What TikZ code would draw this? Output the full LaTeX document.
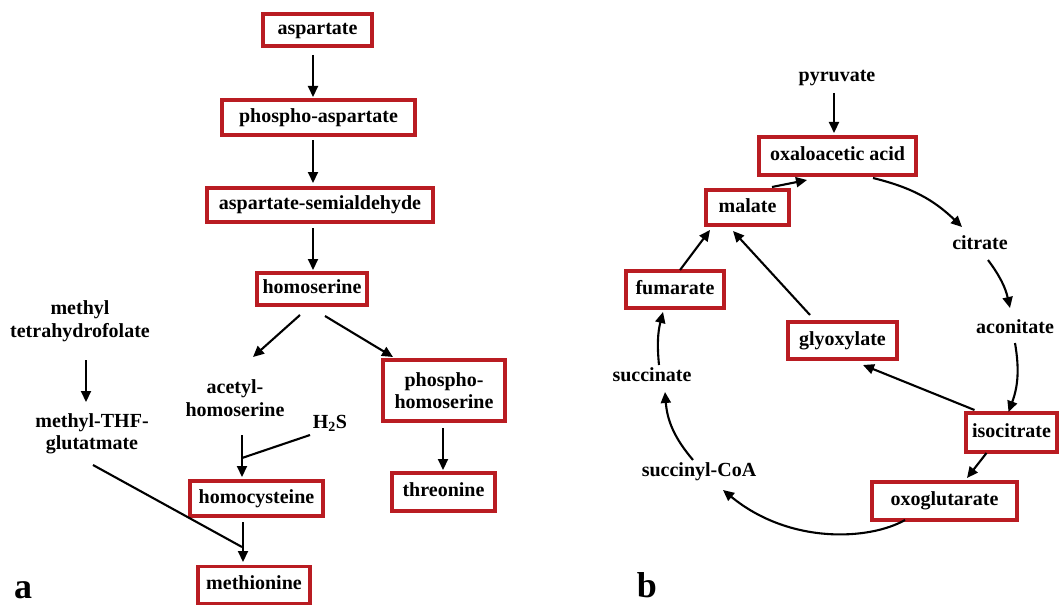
\documentclass[tikz,border=0pt]{standalone}
\usepackage{fontspec}
\setmainfont{Liberation Serif}
\usetikzlibrary{arrows.meta}
\definecolor{boxred}{RGB}{185,28,34}
\begin{document}
\begin{tikzpicture}[x=1pt,y=-1pt,
  every node/.style={font=\bfseries\fontsize{20}{22.5}\selectfont, inner sep=0pt, align=center},
  bx/.style={draw=boxred, line width=3.2pt, fill=white, text height=13.5pt, text depth=4pt},
  arr/.style={line width=2.1pt, -{Triangle[length=11pt,width=10pt]}},
  ln/.style={line width=2.1pt},
  panel/.style={font=\bfseries\fontsize{36}{40}\selectfont}]
\useasboundingbox (0,0) rectangle (1059,607);

% ---------- panel a ----------
\node[bx, minimum width=109pt, minimum height=32pt] (asp) at (317.5,30) {aspartate};
\node[bx, minimum width=193pt, minimum height=35pt] (pasp) at (318.5,117.5) {phospho-aspartate};
\node[bx, minimum width=226pt, minimum height=34pt] (asa) at (320,205) {aspartate-semialdehyde};
\node[bx, minimum width=110pt, minimum height=32pt] (hom) at (312,289) {homoserine};
\node (acet) at (235,398) {acetyl-\\homoserine};
\node[bx, text height=, text depth=, minimum width=122pt, minimum height=61pt] (phom) at (444,390.5) {phospho-\\homoserine};
\node[bx, minimum width=103pt, minimum height=38pt] (thr) at (443.5,492) {threonine};
\node (mthf) at (80,321) {methyl\\tetrahydrofolate};
\node (mthfg) at (92,434) {methyl-THF-\\glutatmate};
\node (h2s) at (330,423) {H\textsubscript{2}S};
\node[bx, minimum width=133pt, minimum height=35pt] (hcy) at (256.5,498.5) {homocysteine};
\node[bx, minimum width=112pt, minimum height=37pt] (met) at (254,585) {methionine};
\node[panel] (la) at (23,590) {a};

\draw[arr] ([shift={(-4.5,25)}]asp.center) -- ([shift={(-5.5,-20.5)}]pasp.center);
\draw[arr] ([shift={(-5.5,22.5)}]pasp.center) -- ([shift={(-7,-22)}]asa.center);
\draw[arr] ([shift={(-7,23)}]asa.center) -- ([shift={(1,-19)}]hom.center);
\draw[arr] ([shift={(-12,26)}]hom.center) -- ([shift={(18,-41)}]acet.center);
\draw[arr] ([shift={(13,27)}]hom.center) -- ([shift={(-51,-33.5)}]phom.center);
\draw[arr] ([shift={(-1,37.5)}]phom.center) -- ([shift={(-0.5,-22)}]thr.center);
\draw[arr] ([shift={(6,39)}]mthf.center) -- ([shift={(-6,-32)}]mthfg.center);
\coordinate (j) at (242,458);
\draw[arr] ([shift={(7,37)}]acet.center) -- ([shift={(-14.5,-21.5)}]hcy.center);
\draw[ln] ([shift={(-20,12)}]h2s.center) -- (j);
\draw[arr] ([shift={(-13.5,23.5)}]hcy.center) -- ([shift={(-11,-23)}]met.center);
\draw[ln] ([shift={(1,31)}]mthfg.center) -- ([shift={(-12,-38)}]met.center);

% ---------- panel b ----------
\node (pyr) at (837,78) {pyruvate};
\node[bx, minimum width=157pt, minimum height=38pt] (oxa) at (837.5,156) {oxaloacetic acid};
\node[bx, minimum width=83pt, minimum height=35pt] (mal) at (747.5,207.5) {malate};
\node (cit) at (980,243) {citrate};
\node (aco) at (1015,327) {aconitate};
\node[bx, minimum width=91pt, minimum height=39pt] (iso) at (1011.5,432.5) {isocitrate};
\node[bx, minimum width=109pt, minimum height=37pt] (gly) at (842.5,340.5) {glyoxylate};
\node[bx, minimum width=145pt, minimum height=38pt] (oxo) at (944.5,501) {oxoglutarate};
\node (scoa) at (699,472) {succinyl-CoA};
\node (succ) at (652,375) {succinate};
\node[bx, minimum width=98pt, minimum height=37pt] (fum) at (675,289.5) {fumarate};
\node[panel] (lb) at (647,585) {b};

\draw[arr] ([shift={(-3,15)}]pyr.center) -- ([shift={(-3.5,-23)}]oxa.center);
\draw[arr] ([shift={(24.5,-20.5)}]mal.center) -- ([shift={(-30.5,24)}]oxa.center);
\draw[arr] ([shift={(35.5,22)}]oxa.center) to[bend left=15] ([shift={(-18,-16)}]cit.center);
\draw[arr] ([shift={(8,17)}]cit.center) to[bend left=12] ([shift={(-5,-19)}]aco.center);
\draw[arr] ([shift={(0,16)}]aco.center) to[bend left=15] ([shift={(-3,-20.5)}]iso.center);
\draw[arr] ([shift={(-37,-22.5)}]iso.center) -- ([shift={(20.5,24.5)}]gly.center);
\draw[arr] ([shift={(-25,20.5)}]iso.center) -- ([shift={(22.5,-23)}]oxo.center);
\draw[arr] ([shift={(-32.5,-25.5)}]gly.center) -- ([shift={(-14.5,23.5)}]mal.center);
\draw[arr] ([shift={(-39.5,19)}]oxo.center) .. controls (870,540) and (790,545) .. ([shift={(24,18)}]scoa.center);
\draw[arr] ([shift={(-6,-12)}]scoa.center) to[bend left=18] ([shift={(13,17)}]succ.center);
\draw[arr] ([shift={(7,-10)}]succ.center) to[bend left=10] ([shift={(-12,22.5)}]fum.center);
\draw[arr] ([shift={(5,-19.5)}]fum.center) -- ([shift={(-37.5,22.5)}]mal.center);
\end{tikzpicture}
\end{document}
